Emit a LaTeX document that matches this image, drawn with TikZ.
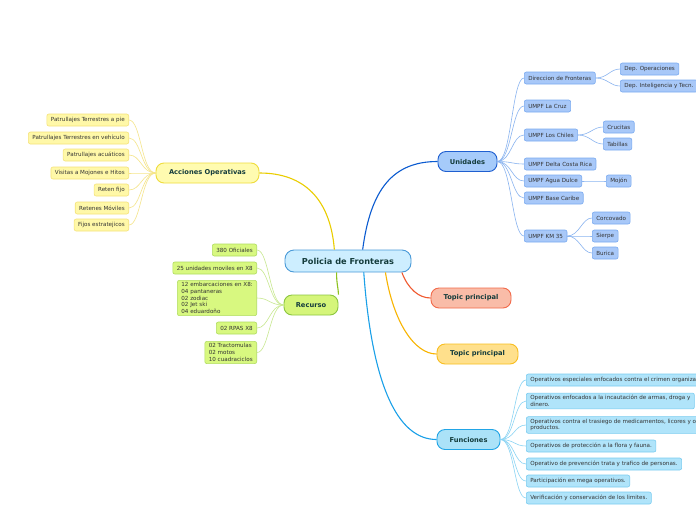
\documentclass[tikz,border=0pt]{standalone}
\usepackage{fontspec}
\setmainfont{DejaVu Sans}
\definecolor{mainF}{HTML}{CDEEFF}
\definecolor{mainD}{HTML}{4A9AD8}
\definecolor{txtD}{HTML}{143C3C}
\definecolor{txtL}{HTML}{333333}
\definecolor{uF}{HTML}{A6CBFA}\definecolor{uD}{HTML}{1F5FD0}\definecolor{uL}{HTML}{0B5BD0}
\definecolor{ucF}{HTML}{A8C8F8}\definecolor{ucD}{HTML}{7AAAF0}\definecolor{ucL}{HTML}{8AB4F0}
\definecolor{aF}{HTML}{FFFBB0}\definecolor{aD}{HTML}{EFDC3C}\definecolor{aL}{HTML}{EACD00}
\definecolor{acF}{HTML}{FFF8A8}\definecolor{acD}{HTML}{F5E27A}\definecolor{acL}{HTML}{F5E58A}
\definecolor{rF}{HTML}{D5F57A}\definecolor{rD}{HTML}{8CC63F}\definecolor{rL}{HTML}{8DC21F}
\definecolor{rcF}{HTML}{D8F880}\definecolor{rcD}{HTML}{B0DC60}\definecolor{rcL}{HTML}{C8E890}
\definecolor{tF}{HTML}{F9BCA8}\definecolor{tD}{HTML}{F26A4A}\definecolor{tL}{HTML}{F05A30}
\definecolor{yF}{HTML}{FFE08C}\definecolor{yD}{HTML}{F8BE20}\definecolor{yL}{HTML}{F8B400}
\definecolor{fF}{HTML}{ABE2F8}\definecolor{fD}{HTML}{22A5E6}\definecolor{fL}{HTML}{1AA0E8}
\definecolor{fcF}{HTML}{B0E4FA}\definecolor{fcD}{HTML}{7ACCF0}\definecolor{fcL}{HTML}{8AD4F4}
\begin{document}
\begin{tikzpicture}[x=1pt,y=-1pt,
  mainnode/.style={draw=mainD, fill=mainF, rounded corners=9pt, line width=0.9pt,
    font=\fontsize{8.2}{9}\selectfont\bfseries, text=txtD, minimum width=126pt, minimum height=22pt, inner sep=0pt},
  topic/.style={rounded corners=8pt, line width=0.9pt, font=\fontsize{6.7}{8}\selectfont\bfseries,
    text=txtD, minimum height=20pt, inner sep=0pt},
  leaf/.style={rounded corners=2pt, line width=0.6pt, font=\fontsize{5.6}{6.6}\selectfont, text=txtL,
    minimum height=12pt, inner xsep=4pt, inner ysep=2.3pt, align=left},
  uleaf/.style={leaf, draw=ucD, fill=ucF},
  aleaf/.style={leaf, draw=acD, fill=acF},
  rleaf/.style={leaf, draw=rcD, fill=rcF},
  fleaf/.style={leaf, draw=fcD, fill=fcF},
  bigline/.style={line width=1.1pt},
  smallline/.style={line width=0.6pt}
]
\clip (0,0) rectangle (696,520);
\useasboundingbox (0,0) rectangle (696,520);
\fill[white] (0,0) rectangle (696,520);

% main and topics
\node[mainnode] (main) at (348,261) {Policia de Fronteras};
\node[topic, draw=uD, fill=uF, minimum width=59pt] (unid) at (467.5,161.5) {Unidades};
\node[topic, draw=aD, fill=aF, minimum width=103pt] (acc) at (207.5,173) {Acciones Operativas};
\node[topic, draw=rD, fill=rF, minimum width=54pt] (rec) at (311,305) {Recurso};
\node[topic, draw=tD, fill=tF, minimum width=80pt] (tp1) at (471,298) {Topic principal};
\node[topic, draw=yD, fill=yF, minimum width=81pt] (tp2) at (477.5,354) {Topic principal};
\node[topic, draw=fD, fill=fF, minimum width=63pt] (fun) at (468.5,439.5) {Funciones};

% main branches
\draw[bigline, uL] (main.38) .. controls +(8,-60) and +(-45,0) .. (unid.west);
\draw[bigline, aL] (main.140) .. controls +(-4,-50) and +(45,0) .. (acc.east);
\draw[bigline, rL] (main.-135) .. controls +(0,12) and +(0,-6) .. (rec.north east);
\draw[bigline, tL] (main.-12) .. controls +(6,16) and +(-12,0) .. (tp1.west);
\draw[bigline, yL] (main.-17) .. controls +(8,50) and +(-22,0) .. (tp2.west);
\draw[bigline, fL] (main.-36) .. controls +(8,110) and +(-40,0) .. (fun.west);

% Unidades children
\node[uleaf, anchor=west] (u1) at (524,78) {Direccion de Fronteras};
\node[uleaf, anchor=west] (u11) at (620,69) {Dep. Operaciones};
\node[uleaf, anchor=west] (u12) at (620,86) {Dep. Inteligencia y Tecn.};
\node[uleaf, anchor=west] (u2) at (524,106) {UMPF La Cruz};
\node[uleaf, anchor=west] (u3) at (524,135) {UMPF Los Chiles};
\node[uleaf, anchor=west] (u31) at (603,127) {Crucitas};
\node[uleaf, anchor=west] (u32) at (603,144) {Tabillas};
\node[uleaf, anchor=west] (u4) at (524,164) {UMPF Delta Costa Rica};
\node[uleaf, anchor=west] (u5) at (524,181) {UMPF Agua Dulce};
\node[uleaf, anchor=west] (u51) at (606,181) {Mojón};
\node[uleaf, anchor=west] (u6) at (524,198) {UMPF Base Caribe};
\node[uleaf, anchor=west] (u7) at (524,236) {UMPF KM 35};
\node[uleaf, anchor=west] (u71) at (592,218) {Corcovado};
\node[uleaf, anchor=west] (u72) at (592,236) {Sierpe};
\node[uleaf, anchor=west] (u73) at (592,253) {Burica};
\foreach \c in {u1,u2,u3,u4,u5,u6,u7}
  \draw[smallline, ucL] (unid.east) .. controls +(14,0) and +(-12,0) .. (\c.west);
\foreach \p/\c in {u1/u11,u1/u12,u3/u31,u3/u32,u5/u51,u7/u71,u7/u72,u7/u73}
  \draw[smallline, ucL] (\p.east) .. controls +(12,0) and +(-10,0) .. (\c.west);

% Acciones children
\node[aleaf, anchor=east] (a1) at (129,120) {Patrullajes Terrestres a pie};
\node[aleaf, anchor=east] (a2) at (129,138) {Patrullajes Terrestres en vehículo};
\node[aleaf, anchor=east] (a3) at (129,155) {Patrullajes acuáticos};
\node[aleaf, anchor=east] (a4) at (129,173) {Visitas a Mojones e Hitos};
\node[aleaf, anchor=east] (a5) at (129,190) {Reten fijo};
\node[aleaf, anchor=east] (a6) at (129,208) {Retenes Móviles};
\node[aleaf, anchor=east] (a7) at (129,225) {Fijos estratejicos};
\foreach \c in {a1,a2,a3,a4,a5,a6,a7}
  \draw[smallline, acL] (acc.west) .. controls +(-14,0) and +(12,0) .. (\c.east);

% Recurso children
\node[rleaf, anchor=east] (r1) at (257,250) {380 Oficiales};
\node[rleaf, anchor=east] (r2) at (257,268) {25 unidades moviles en X8};
\node[rleaf, anchor=east] (r3) at (257,298) {12 embarcaciones en X8:\\04 pantaneras\\02 zodiac\\02 Jet ski\\04 eduardoño};
\node[rleaf, anchor=east] (r4) at (257,328) {02 RPAS X8};
\node[rleaf, anchor=east] (r5) at (257,352.5) {02 Tractomulas\\02 motos\\10 cuadraciclos};
\foreach \c in {r1,r2,r3,r4,r5}
  \draw[smallline, rcL] (rec.west) .. controls +(-14,0) and +(12,0) .. (\c.east);

% Funciones children
\node[fleaf, anchor=west] (f1) at (526,380) {Operativos especiales enfocados contra el crimen organizado.};
\node[fleaf, anchor=west] (f2) at (526,401) {Operativos enfocados a la incautación de armas, droga y\\dinero.};
\node[fleaf, anchor=west] (f3) at (526,425) {Operativos contra el trasiego de medicamentos, licores y otros\\productos.};
\node[fleaf, anchor=west] (f4) at (526,446) {Operativos de protección a la flora y fauna.};
\node[fleaf, anchor=west] (f5) at (526,464) {Operativo de prevención trata y trafico de personas.};
\node[fleaf, anchor=west] (f6) at (526,481) {Participación en mega operativos.};
\node[fleaf, anchor=west] (f7) at (526,498) {Verificación y conservación de los limites.};
\foreach \c in {f1,f2,f3,f4,f5,f6,f7}
  \draw[smallline, fcL] (fun.east) .. controls +(14,0) and +(-12,0) .. (\c.west);
\end{tikzpicture}
\end{document}
